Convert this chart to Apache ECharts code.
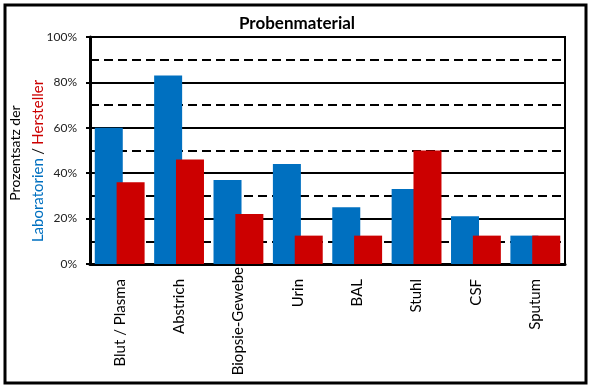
<!DOCTYPE html>
<html>
<head>
<meta charset="utf-8">
<script src="https://cdn.jsdelivr.net/npm/echarts@6/dist/echarts.min.js"></script>
<style>html,body{margin:0;padding:0;background:#fff}#c{width:594px;height:389px}</style>
</head>
<body>
<div id="c"></div>
<script>
var categories = ['Blut / Plasma', 'Abstrich', 'Biopsie-Gewebe', 'Urin', 'BAL', 'Stuhl', 'CSF', 'Sputum'];
var laboratorien = [60, 83, 37, 44, 25, 33, 21, 12.5];
var hersteller = [36, 46, 22, 12.5, 12.5, 50, 12.5, 12.5];
var titleText = 'Probenmaterial';
var yName1 = 'Prozentsatz der';
var yName2a = 'Laboratorien';
var yName2b = 'Hersteller';

var FONT = 'Lato, "Open Sans", sans-serif';
var chart = echarts.init(document.getElementById('c'), null, {renderer: 'canvas'});
chart.setOption({
  animation: false,
  backgroundColor: '#fff',
  title: {
    text: titleText, left: 'center', top: 10,
    textStyle: {fontFamily: FONT, fontSize: 17, fontWeight: 'bold', color: '#000'}
  },
  grid: {left: 90, right: 29, top: 37, bottom: 125, show: true, borderColor: '#000', borderWidth: 2,
         backgroundColor: 'transparent', containLabel: false, outerBoundsMode: 'none'},
  xAxis: {
    type: 'category', data: categories,
    axisLine: {lineStyle: {color: '#000', width: 3}},
    axisTick: {alignWithLabel: true, length: 5, lineStyle: {color: '#000', width: 2}},
    axisLabel: {
      rotate: 90, fontFamily: FONT, fontSize: 15, color: '#000', margin: 15, interval: 0,
      formatter: function (v) { return v.length > 13 ? '{s|' + v + '}' : v; },
      rich: {s: {fontFamily: FONT, fontSize: 15, color: '#000', padding: [0, -12, 0, 0]}}
    }
  },
  yAxis: [{
    type: 'value', min: 0, max: 100, interval: 20,
    axisLine: {show: true, lineStyle: {color: '#000', width: 3}},
    axisTick: {show: true, length: 4, lineStyle: {color: '#000', width: 2}},
    axisLabel: {formatter: '{value}%', fontFamily: FONT, fontSize: 12, color: '#222', margin: 13},
    splitLine: {show: true, lineStyle: {color: '#000', width: 2}}
  }, {
    type: 'value', min: 0, max: 100, interval: 10, position: 'left',
    axisLine: {show: false}, axisTick: {show: false}, axisLabel: {show: false},
    splitLine: {show: true, lineStyle: {color: '#000', width: 2, type: [9, 5]}}
  }],
  series: [{
    name: 'Laboratorien', type: 'bar', data: laboratorien, yAxisIndex: 0,
    barWidth: 28, barGap: '-22%', itemStyle: {color: '#0070C0'}, z: 3
  }, {
    name: 'Hersteller', type: 'bar', data: hersteller, yAxisIndex: 0,
    barWidth: 28, barGap: '-22%', itemStyle: {color: '#CC0000'}, z: 4
  }],
  graphic: [{
    type: 'rect', shape: {x: 5, y: 5, width: 581, height: 378},
    style: {fill: 'none', stroke: '#000', lineWidth: 3}, silent: true
  }, {
    type: 'text', x: 15, y: 153, rotation: Math.PI / 2,
    style: {text: yName1, fill: '#000', font: '14px ' + FONT, align: 'center', verticalAlign: 'middle'}
  }, {
    type: 'text', x: 38, y: 161, rotation: Math.PI / 2,
    style: {
      text: '{a|' + yName2a + '} {s|/} {b|' + yName2b + '}',
      align: 'center', verticalAlign: 'middle',
      rich: {
        a: {fill: '#0070C0', font: '15px ' + FONT},
        s: {fill: '#000', font: '15px ' + FONT},
        b: {fill: '#CC0000', font: '15px ' + FONT}
      }
    }
  }]
});
</script>
</body>
</html>
